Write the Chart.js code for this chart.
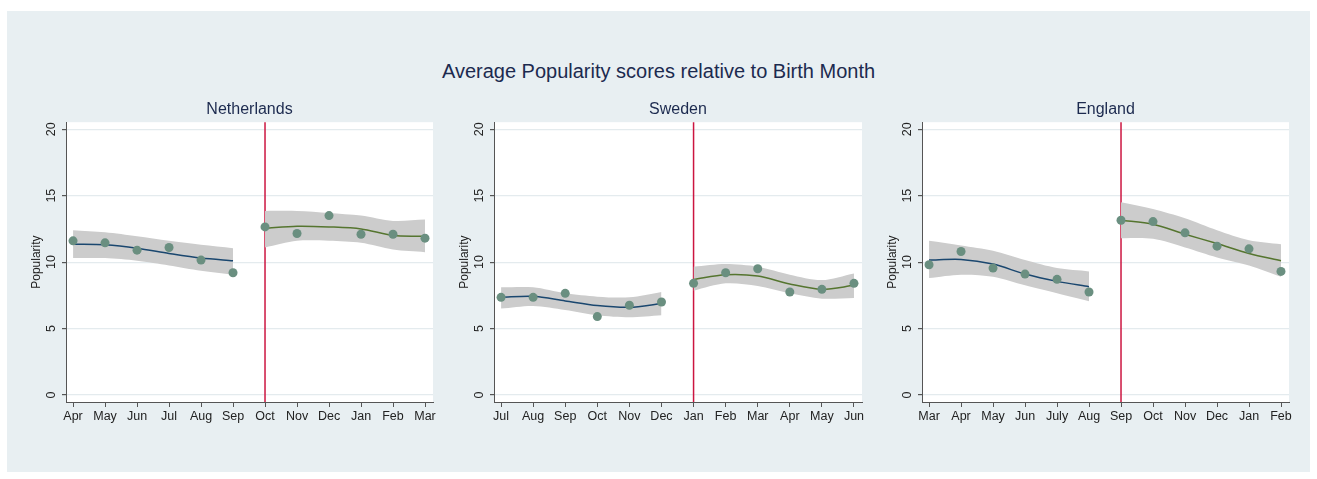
<!DOCTYPE html>
<html>
<head>
<meta charset="utf-8">
<script src="https://cdn.jsdelivr.net/npm/chart.js@4.4.1/dist/chart.umd.min.js"></script>
<style>
    body { margin: 0; background: #ffffff; font-family: "Liberation Sans", Arial, sans-serif; }
    #frame { position: absolute; left: 7px; top: 11px; width: 1303px; height: 461px; background: #e8eff2; }
    #mainTitle { position: absolute; left: 0; top: 60px; width: 1317px; text-align: center; font-size: 20px; color: #1c2a4f; }
    .panel { position: absolute; top: 100px; width: 425px; height: 328px; }
</style>
</head>
<body>
<div id="frame"></div>
<div id="mainTitle">Average Popularity scores relative to Birth Month</div>
<div class="panel" style="left:20px"><canvas id="nlChart"></canvas></div>
<div class="panel" style="left:448px"><canvas id="seChart"></canvas></div>
<div class="panel" style="left:876px"><canvas id="enChart"></canvas></div>

<script>
// month order starts six months before the cut-off (red line at index 6)
const nlMonths = ['Apr', 'May', 'Jun', 'Jul', 'Aug', 'Sep', 'Oct', 'Nov', 'Dec', 'Jan', 'Feb', 'Mar'];
const nlScores = [11.6, 11.45, 10.9, 11.1, 10.15, 9.2, 12.65, 12.15, 13.5, 12.1, 12.1, 11.8];
const nlFitBefore = [11.35, 11.3, 11.05, 10.65, 10.3, 10.1];
const nlFitAfter = [12.55, 12.7, 12.65, 12.5, 12.0, 11.95];
const nlHighBefore = [12.4, 12.25, 11.95, 11.6, 11.3, 11.05];
const nlLowBefore = [10.3, 10.3, 10.1, 9.75, 9.35, 9.05];
const nlHighAfter = [13.85, 13.85, 13.7, 13.5, 13.1, 13.2];
const nlLowAfter = [11.1, 11.6, 11.6, 11.45, 10.95, 10.75];

const seMonths = ['Jul', 'Aug', 'Sep', 'Oct', 'Nov', 'Dec', 'Jan', 'Feb', 'Mar', 'Apr', 'May', 'Jun'];
const seScores = [7.35, 7.35, 7.65, 5.9, 6.75, 7.0, 8.4, 9.2, 9.5, 7.75, 7.95, 8.4];
const seFitBefore = [7.35, 7.43, 7.08, 6.73, 6.6, 6.88];
const seFitAfter = [8.7, 9.05, 8.95, 8.35, 7.95, 8.25];
const seHighBefore = [8.1, 8.1, 7.65, 7.4, 7.35, 7.75];
const seLowBefore = [6.5, 6.7, 6.4, 6.0, 5.85, 6.0];
const seHighAfter = [9.65, 9.85, 9.65, 9.05, 8.65, 9.15];
const seLowAfter = [7.85, 8.4, 8.2, 7.65, 7.25, 7.3];

const enMonths = ['Mar', 'Apr', 'May', 'Jun', 'July', 'Aug', 'Sep', 'Oct', 'Nov', 'Dec', 'Jan', 'Feb'];
const enScores = [9.8, 10.8, 9.55, 9.1, 8.7, 7.75, 13.15, 13.05, 12.2, 11.2, 11.0, 9.3];
const enFitBefore = [10.15, 10.2, 9.85, 9.1, 8.55, 8.15];
const enFitAfter = [13.15, 12.85, 12.1, 11.4, 10.65, 10.1];
const enHighBefore = [11.6, 11.25, 10.85, 10.15, 9.55, 9.3];
const enLowBefore = [8.8, 9.05, 8.9, 8.25, 7.65, 7.05];
const enHighAfter = [14.5, 14.0, 13.3, 12.4, 11.65, 11.35];
const enLowAfter = [11.8, 11.75, 11.1, 10.35, 9.75, 8.9];

const yTicks = [0, 5, 10, 15, 20];
const cutIndex = 6;

const fontFamily = '"Liberation Sans", Arial, sans-serif';

function toXY(values, start) {
    return values.map((v, i) => ({x: i + start, y: v}));
}

// white plot region + red cut-off line
const plotBackground = {
    id: 'plotBackground',
    beforeDraw(chart) {
        const a = chart.chartArea;
        const c = chart.ctx;
        c.save();
        c.fillStyle = '#ffffff';
        c.fillRect(a.left, a.top, a.right - a.left, a.bottom - a.top);
        c.restore();
    },
    beforeDatasetsDraw(chart) {
        const a = chart.chartArea;
        const c = chart.ctx;
        const x = chart.scales.x.getPixelForValue(cutIndex);
        c.save();
        c.strokeStyle = '#cc1540';
        c.lineWidth = 1.5;
        c.beginPath();
        c.moveTo(x, a.top);
        c.lineTo(x, a.bottom);
        c.stroke();
        c.restore();
    }
};

// Stata-style vertical y tick labels
const yLabels = {
    id: 'yLabels',
    afterDraw(chart) {
        const s = chart.scales.y;
        const c = chart.ctx;
        c.save();
        c.fillStyle = '#222222';
        c.font = '12.5px ' + fontFamily;
        c.textAlign = 'center';
        c.textBaseline = 'middle';
        s.ticks.forEach((t, i) => {
            const y = s.getPixelForTick(i);
            c.save();
            c.translate(s.right - 14, y);
            c.rotate(-Math.PI / 2);
            c.fillText(String(t.value), 0, 0);
            c.restore();
        });
        c.restore();
    }
};

function makeChart(id, name, months, scores, fitBefore, fitAfter, lowBefore, highBefore, lowAfter, highAfter, padRight) {
    const band = '#cccccc';
    new Chart(document.getElementById(id), {
        type: 'line',
        data: {
            datasets: [
                {data: toXY(scores, 0), showLine: false, pointRadius: 4.5, pointBackgroundColor: '#6a8f80', pointBorderWidth: 0},
                {data: toXY(fitBefore, 0), borderColor: '#1a476f', borderWidth: 1.5, pointRadius: 0, tension: 0.3, fill: false},
                {data: toXY(fitAfter, cutIndex), borderColor: '#55752f', borderWidth: 1.5, pointRadius: 0, tension: 0.3, fill: false},
                {data: toXY(highBefore, 0), borderWidth: 0, pointRadius: 0, tension: 0.3, backgroundColor: band, fill: '+1'},
                {data: toXY(lowBefore, 0), borderWidth: 0, pointRadius: 0, tension: 0.3, fill: false},
                {data: toXY(highAfter, cutIndex), borderWidth: 0, pointRadius: 0, tension: 0.3, backgroundColor: band, fill: '+1'},
                {data: toXY(lowAfter, cutIndex), borderWidth: 0, pointRadius: 0, tension: 0.3, fill: false},
            ],
        },
        options: {
            responsive: true,
            maintainAspectRatio: false,
            animation: false,
            layout: {padding: {left: 0, right: padRight, top: 0, bottom: 0}},
            plugins: {
                legend: {display: false},
                tooltip: {enabled: false},
                title: {
                    display: true,
                    text: name,
                    fullSize: false,
                    color: '#1c2a4f',
                    font: {family: fontFamily, size: 16, weight: 'normal'},
                    padding: {top: 0, bottom: 3},
                },
            },
            scales: {
                x: {
                    type: 'linear',
                    min: -0.22,
                    max: 11.25,
                    afterBuildTicks: (scale) => { scale.ticks = months.map((m, i) => ({value: i})); },
                    afterFit: (scale) => { scale.height = 26; },
                    ticks: {
                        autoSkip: false,
                        maxRotation: 0,
                        padding: 2,
                        color: '#222222',
                        font: {family: fontFamily, size: 12.5},
                        callback: (v) => months[v],
                    },
                    grid: {drawOnChartArea: false, color: '#555555', tickLength: 5},
                    border: {color: '#555555', width: 1},
                },
                y: {
                    min: -0.53,
                    max: 20.53,
                    afterBuildTicks: (scale) => { scale.ticks = yTicks.map(v => ({value: v})); },
                    afterFit: (scale) => { scale.width = 46; },
                    ticks: {display: false},
                    title: {
                        display: true,
                        text: 'Popularity',
                        color: '#222222',
                        font: {family: fontFamily, size: 12},
                        padding: {top: 9, bottom: 0},
                    },
                    grid: {color: '#e4ebee', tickColor: '#555555', tickLength: 4, lineWidth: 1.2},
                    border: {color: '#555555', width: 1},
                },
            },
        },
        plugins: [plotBackground, yLabels],
    });
}

document.addEventListener('DOMContentLoaded', function() {
    makeChart('nlChart', 'Netherlands', nlMonths, nlScores, nlFitBefore, nlFitAfter, nlLowBefore, nlHighBefore, nlLowAfter, nlHighAfter, 12);
    makeChart('seChart', 'Sweden', seMonths, seScores, seFitBefore, seFitAfter, seLowBefore, seHighBefore, seLowAfter, seHighAfter, 11);
    makeChart('enChart', 'England', enMonths, enScores, enFitBefore, enFitAfter, enLowBefore, enHighBefore, enLowAfter, enHighAfter, 12);
});
</script>
</body>
</html>
